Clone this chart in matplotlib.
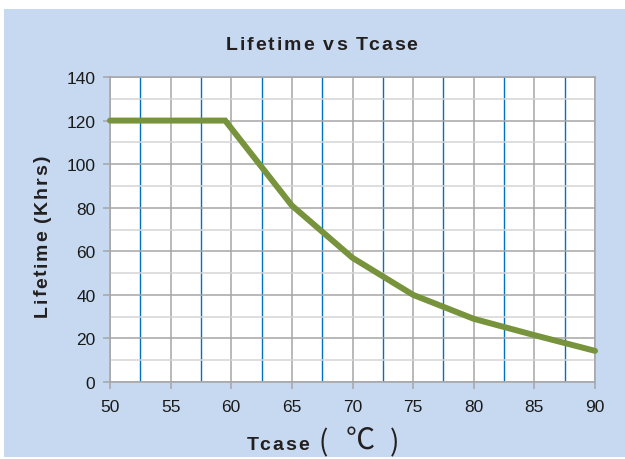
import matplotlib
matplotlib.use("Agg")
import matplotlib.pyplot as plt
from matplotlib.font_manager import FontProperties
from matplotlib.patches import Rectangle
from matplotlib.ticker import MultipleLocator

# Lifetime derating curve
tcase = [50, 59.5, 65, 70, 75, 80, 85, 90]
lifetime_khrs = [120, 120, 81, 57, 40, 29, 21.5, 14.3]

x_ticks = [50, 55, 60, 65, 70, 75, 80, 85, 90]
y_ticks = [0, 20, 40, 60, 80, 100, 120, 140]

BG = "#c6d9f0"
GREEN = "#77933c"
BLUE = "#0070c0"
GRID_MAJOR = "#a6a6a6"
GRID_MINOR = "#d4d4d4"
INK = "#231f20"
W, H = 625, 460

plt.rcParams["font.family"] = ["Liberation Sans", "DejaVu Sans"]

fig = plt.figure(figsize=(W / 100, H / 100), dpi=100)
fig.patch.set_facecolor("white")
fig.patches.append(Rectangle((4 / W, 2 / H), (W - 4) / W, 448 / H,
                             transform=fig.transFigure, facecolor=BG,
                             edgecolor="none", zorder=-10))

ax = fig.add_axes([110 / W, 77 / H, 485 / W, 305 / H])
ax.set_facecolor("white")

ax.set_xlim(50, 90)
ax.set_ylim(0, 140)
ax.set_xticks(x_ticks)
ax.set_yticks(y_ticks)
ax.xaxis.set_minor_locator(MultipleLocator(2.5))
ax.yaxis.set_minor_locator(MultipleLocator(10))

ax.grid(which="major", axis="both", color=GRID_MAJOR, linewidth=1.1, zorder=1)
ax.grid(which="minor", axis="y", color=GRID_MINOR, linewidth=1.1, zorder=0.5)
ax.grid(which="minor", axis="x", color=BLUE, linewidth=1.0, zorder=1.5)
ax.set_axisbelow(True)

for s in ax.spines.values():
    s.set_color(GRID_MAJOR)
    s.set_linewidth(1.1)

ax.tick_params(which="major", direction="out", length=5, width=1.1,
               color=GRID_MAJOR, labelsize=12.5, labelcolor="#1a1a1a")
ax.tick_params(axis="x", pad=7.5)
ax.tick_params(axis="y", pad=5.5)
ax.tick_params(which="minor", length=0)

ax.plot(tcase, lifetime_khrs, color=GREEN, linewidth=4.3,
        solid_joinstyle="miter", solid_capstyle="round", zorder=3,
        clip_on=False)


def tracked_text(x, y, s, size, track, vertical=False):
    """Bold text with extra letter spacing; x, y = start of baseline in px
    (y counted from the top of the image)."""
    prop = FontProperties(family="Liberation Sans", weight="bold", size=size)
    r = fig.canvas.get_renderer()

    def width(t):
        return r.get_text_width_height_descent(t, prop, ismath=False)[0] if t else 0

    for i, ch in enumerate(s):
        if ch == " ":
            continue
        off = width(s[:i + 1]) - width(ch) + track * i
        if vertical:
            px, py, rot = x, (H - y) + off, 90
        else:
            px, py, rot = x + off, H - y, 0
        fig.text(px / W, py / H, ch, fontproperties=prop, color=INK,
                 rotation=rot, rotation_mode="anchor",
                 ha="left", va="baseline")


tracked_text(226, 50, "Lifetime vs Tcase", 14, 1.9)
tracked_text(47, 317, "Lifetime (Khrs)", 14, 1.7, vertical=True)
tracked_text(247, 450, "Tcase", 14, 2.0)

# unit part of the x label: thin tall brackets around the Celsius sign
cjk = ["Noto Sans CJK SC", "DejaVu Sans"]
fig.text(323 / W, 1 - 443 / H, "(", ha="center", va="center",
         fontsize=20, color=INK, family=cjk)
fig.text(360 / W, 1 - 441 / H, "℃", ha="center", va="center",
         fontsize=21, color=INK, family=cjk)
fig.text(395 / W, 1 - 443 / H, ")", ha="center", va="center",
         fontsize=20, color=INK, family=cjk)

fig.savefig("out.png", dpi=100, facecolor=fig.get_facecolor())
